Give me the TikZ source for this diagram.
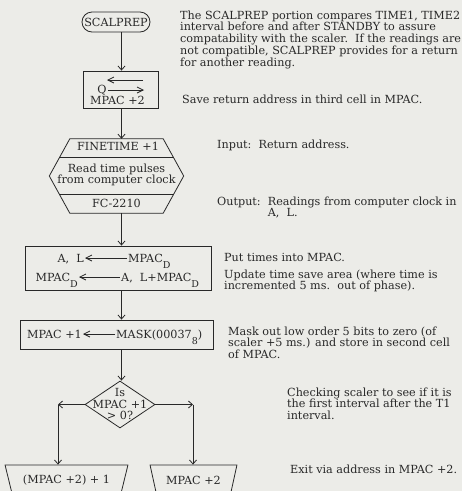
\documentclass[tikz,border=0pt]{standalone}
\usepackage{fontspec}
\setmainfont{DejaVu Serif}
\usepackage{tikz}
\usetikzlibrary{positioning}
\usetikzlibrary{arrows.meta}
\usetikzlibrary{calc}
\usetikzlibrary{shapes.geometric}

\definecolor{paper}{RGB}{236,236,232}
\definecolor{ink}{RGB}{40,40,40}

% lowered index as typed on the sheet
\newcommand{\dsub}[1]{\raisebox{-6pt}{\fontsize{9.5}{9.5}\selectfont #1}}

\tikzset{
  flow/.style={-{Straight Barb[length=4pt,width=7pt]}, line width=0.8pt},
  trans/.style={-{Straight Barb[length=6pt,width=6pt]}, line width=0.8pt},
  box/.style={draw, line width=0.8pt, rectangle, inner sep=0pt},
  note/.style={anchor=base west, align=left, inner sep=0pt},
  term/.style={inner xsep=1pt},
}

\begin{document}
\begin{tikzpicture}[x=1pt, y=-1pt, ink, every node/.style={font=\fontsize{11.2}{11.8}\selectfont}]

\useasboundingbox (0,0) rectangle (462,491);
\fill[paper] (0,0) rectangle (462,491);

\coordinate (spine) at (121.5,0);

% flow chart
\node[draw, line width=0.8pt, rounded corners=10pt, minimum width=68pt, minimum height=20pt, inner sep=0pt] (start) at (116,22) {SCALPREP};

\node[box, minimum width=75pt, minimum height=37pt] (save) at (120.5,89.5) {};
\coordinate (s1) at (107,80);
\coordinate (s2) at (143,80);
\draw[trans] (s2) -- (s1);
\node[term] (q) at (102,90) {Q};
\coordinate (s3) at (144,90);
\draw[trans] (q.east) -- (s3);
\node (mp2) at (117.5,100.5) {MPAC +2};

\node[minimum width=134pt, minimum height=74pt, inner sep=0pt] (clock) at (116.5,176) {};
\coordinate (tl) at ($(clock.north west)+(20.5,0)$);
\coordinate (tr) at ($(clock.north east)+(-20.5,0)$);
\coordinate (br) at ($(clock.south east)+(-20.5,0)$);
\coordinate (bl) at ($(clock.south west)+(20.5,0)$);
\draw[line width=0.8pt] (clock.west) -- (tl) -- (tr) -- (clock.east) -- (br) -- (bl) -- cycle;
\draw[line width=0.8pt] ($(clock.west)!0.5!(tl)$) -- ($(clock.east)!0.5!(tr)$);
\draw[line width=0.8pt] ($(clock.west)!0.5!(bl)$) -- ($(clock.east)!0.5!(br)$);
\node (ft) at (118,146) {FINETIME +1};
\node[align=center] (rd) at (116.5,175) {Read time pulses\\from computer clock};
\node (fc) at (116.5,203.5) {FC-2210};

\node[box, minimum width=186pt, minimum height=44pt] (times) at (118,268) {};
\node[term, anchor=base east] (al) at (85,262) {A,\ \ L};
\node[term, anchor=base west] (md) at (127,262) {MPAC\dsub{D}};
\draw[trans] ([yshift=4pt]md.base west) -- ([yshift=4pt]al.base east);
\node[term, anchor=base east] (md2) at (79,281) {MPAC\dsub{D}};
\node[term, anchor=base west] (al2) at (120,281) {A,\ \ L+MPAC\dsub{D}};
\draw[trans] ([yshift=4pt]al2.base west) -- ([yshift=4pt]md2.base east);

\node[box, minimum width=193pt, minimum height=29pt] (mask) at (116.5,334.5) {};
\node[term, anchor=base east] (m1) at (83,338) {MPAC +1};
\node[term, anchor=base west] (mk) at (115,338) {MASK(00037\dsub{8})};
\draw[trans] ([yshift=4pt]mk.base west) -- ([yshift=4pt]m1.base east);

\node[diamond, draw, line width=0.8pt, minimum width=70pt, minimum height=47pt, inner sep=0pt] (test) at (120,404.5) {};
\node[align=center, font=\fontsize{11.2}{11.5}\selectfont] (is) at (120,404) {Is\\MPAC +1\\> 0?};

\coordinate (lc) at (58,404.5);
\coordinate (rc) at (193,404.5);

\node[trapezium, draw, line width=0.8pt, trapezium angle=60, shape border rotate=180, trapezium stretches=true, minimum width=123pt, minimum height=30pt, inner sep=0pt] (plus) at (66.5,480) {(MPAC +2) + 1};
\node[trapezium, draw, line width=0.8pt, trapezium angle=60, shape border rotate=180, trapezium stretches=true, minimum width=87pt, minimum height=30pt, inner sep=0pt] (exit) at (193.5,480) {MPAC +2};

\draw[flow] (start.south -| spine) -- (save.north -| spine);
\draw[flow] (save.south -| spine) -- (tl -| spine);
\draw[flow] (bl -| spine) -- (times.north -| spine);
\draw[flow] (times.south -| spine) -- (mask.north -| spine);
\draw[flow] (mask.south -| spine) -- (test.north -| spine);
\draw[flow] (test.west) -- (lc);
\draw[flow] (lc) -- (lc |- plus.north);
\draw[flow] (test.east) -- (rc);
\draw[flow] (rc) -- (rc |- exit.north);

% remarks (base = baseline of the last line)
\path (180,66.2) node[note] (intro) {The SCALPREP portion compares TIME1, TIME2\\
interval before and after STANDBY to assure\\
compatability with the scaler.\ \ If the readings are\\
not compatible, SCALPREP provides for a return\\
for another reading.}
(182,103) node[note] (savenote) {Save return address in third cell in MPAC.}
(217,148) node[note] (innote) {Input:\ \ Return address.}
(217,216.8) node[note] (outnote) {Output:\ \ Readings from computer clock in\\
\phantom{Output:\ \ }A,\ \ L.}
(224,261) node[note] (putnote) {Put times into MPAC.}
(224,289.8) node[note] (updnote) {Update time save area (where time is\\
incremented 5 ms.\ \ out of phase).}
(228,358.6) node[note] (masknote) {Mask out low order 5 bits to zero (of\\
scaler +5 ms.) and store in second cell\\
of MPAC.}
(287,419.6) node[note] (checknote) {Checking scaler to see if it is\\
the first interval after the T1\\
interval.}
(290,473) node[note] (exitnote) {Exit via address in MPAC +2.};

\end{tikzpicture}
\end{document}
